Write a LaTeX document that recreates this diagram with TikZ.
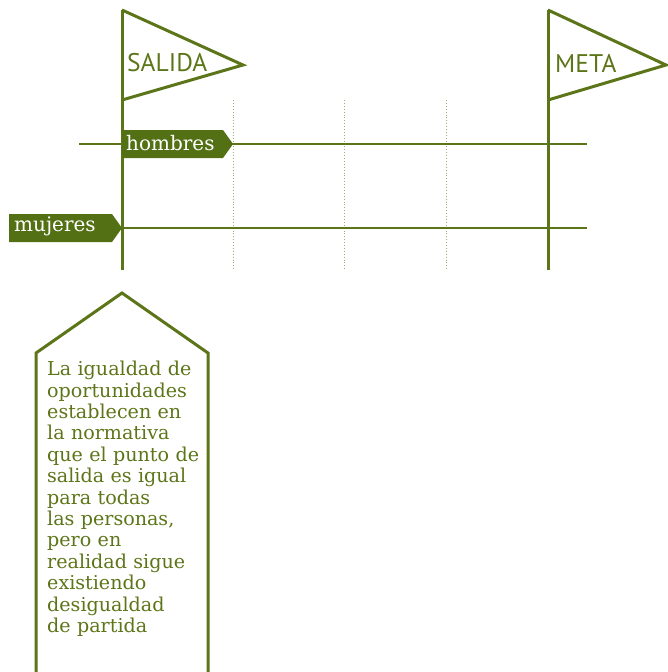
\documentclass[tikz,border=0pt]{standalone}
\usepackage{fontspec}
\setsansfont{PT Sans}
\newfontfamily\slabfont{DejaVu Serif}
\usetikzlibrary{shapes}
\definecolor{oliva}{RGB}{92,117,24}
\definecolor{oscuro}{RGB}{84,112,20}
\tikzset{
  poste/.style={draw=oliva,line width=3pt},
  carril/.style={draw=oliva,line width=2.8pt},
  marca/.style={draw=oliva!60,dotted,line width=0.9pt},
  bandera/.style={anchor=west,inner sep=0pt,text=oliva,font=\sffamily\fontsize{25.5}{28}\selectfont},
  etiqueta/.style={anchor=west,inner sep=0pt,text=white,font=\slabfont\fontsize{20}{23}\selectfont}
}
\begin{document}
\begin{tikzpicture}[x=1pt,y=-1pt]
\useasboundingbox (0,0) rectangle (667,672);
\coordinate (salida) at (122,10);
\coordinate (salidapie) at (122,270);
\coordinate (meta) at (548,10);
\coordinate (metapie) at (548,270);
\coordinate (hini) at (79,144);
\coordinate (hfin) at (587,144);
\coordinate (mini) at (122,228);
\coordinate (mfin) at (587,228);
\begin{scope}[]
\foreach \x in {233,344,446}
  \draw[marca] (\x,100) -- (\x,270);
\draw[carril] (hini) -- (hfin);
\draw[carril] (mini) -- (mfin);
\draw[poste] (salida) -- (salidapie);
\draw[poste] (meta) -- (metapie);
\draw[poste,line join=miter] (salida) -- (243,65) -- (122,100);
\draw[poste,line join=miter] (meta) -- (666,65) -- (548,100);
\end{scope}
\node[bandera] (salidatxt) at (127,63) {SALIDA};
\node[bandera] (metatxt) at (555,63) {META};
\begin{scope}[fill=oscuro]
\fill (122,130) -- (223,130) -- (233,144) -- (223,158) -- (122,158) -- cycle;
\fill (9,214) -- (112,214) -- (122,228) -- (112,242) -- (9,242) -- cycle;
\end{scope}
\node[etiqueta] (hombres) at (126,143) {hombres};
\node[etiqueta] (mujeres) at (14,226) {mujeres};
\draw[poste,line join=miter] (36,676) -- (36,353) -- (122,293) -- (208,353) -- (208,676);
\node[anchor=north west,inner sep=0pt,text width=170pt,align=left,text=oliva,
  font=\slabfont\fontsize{19.1}{21.4}\selectfont] (nota) at (47,361)
  {La igualdad de\\ oportunidades\\ establecen en\\ la normativa\\ que el punto de\\ salida es igual\\ para todas\\ las personas,\\ pero en\\ realidad sigue\\ existiendo\\ desigualdad\\ de partida};
\end{tikzpicture}
\end{document}
